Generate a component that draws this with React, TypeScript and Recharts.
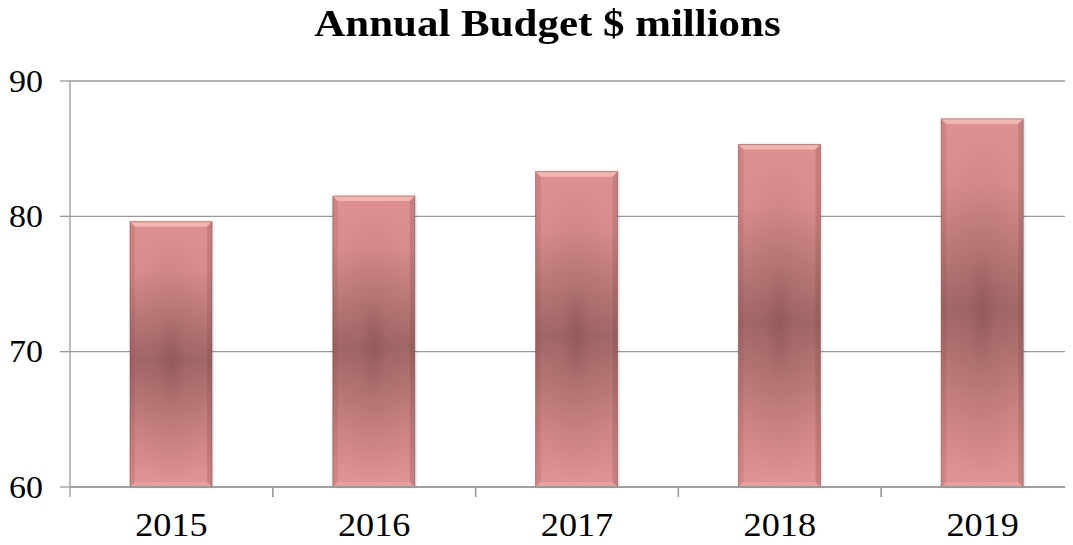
import { BarChart, Bar, XAxis, YAxis, CartesianGrid } from "recharts";

/* ─── Data ─────────────────────────────────────────────────── */

const years = ["2015", "2016", "2017", "2018", "2019"];
const budget = [79.6, 81.5, 83.3, 85.3, 87.2];
const yTicks = [60, 70, 80, 90];

const data = years.map((year, i) => ({ year, budget: budget[i] }));

/* ─── Styles ───────────────────────────────────────────────── */

const SERIF = "'Liberation Serif', 'Times New Roman', serif";
const AXIS_GREY = "#9a9a9a";

/* ─── Bevelled bar ─────────────────────────────────────────── */

function BevelBar(props: any) {
  const { x, y, width: w, height: h } = props;
  if (!h || h <= 0) return null;
  const b = 5;
  return (
    <g filter="url(#barShadow)">
      <rect x={x} y={y} width={w} height={h} fill="url(#barFade)" />
      <rect x={x} y={y} width={w} height={h} fill="url(#barSpot)" />
      {/* top chamfer */}
      <polygon
        points={`${x},${y} ${x + w},${y} ${x + w - b},${y + b} ${x + b},${y + b}`}
        fill="#f0b6b1"
      />
      {/* side edges */}
      <polygon
        points={`${x},${y} ${x + b},${y + b} ${x + b},${y + h - b} ${x},${y + h}`}
        fill="rgba(110,55,55,0.14)"
      />
      <polygon
        points={`${x + w},${y} ${x + w - b},${y + b} ${x + w - b},${y + h - b} ${x + w},${y + h}`}
        fill="rgba(110,55,55,0.2)"
      />
      {/* bottom lip */}
      <polygon
        points={`${x},${y + h} ${x + w},${y + h} ${x + w - b},${y + h - b} ${x + b},${y + h - b}`}
        fill="rgba(245,175,170,0.4)"
      />
      <rect
        x={x}
        y={y}
        width={w}
        height={h}
        fill="none"
        stroke="rgba(115,70,70,0.5)"
        strokeWidth={1}
      />
    </g>
  );
}

/* ─── Ticks ────────────────────────────────────────────────── */

function YearTick(props: any) {
  const { x, y, payload, width, visibleTicksCount } = props;
  const half =
    payload?.offset || (width && visibleTicksCount ? width / visibleTicksCount / 2 : 0);
  return (
    <g>
      <line x1={x - half} y1={y} x2={x - half} y2={y + 10} stroke={AXIS_GREY} strokeWidth={1.3} />
      <line x1={x + half} y1={y} x2={x + half} y2={y + 10} stroke={AXIS_GREY} strokeWidth={1.3} />
      <text
        transform={`translate(${x},${y + 49}) scale(1.05,1)`}
        textAnchor="middle"
        fontFamily={SERIF}
        fontSize={34.5}
        fill="#000"
      >
        {payload.value}
      </text>
    </g>
  );
}

function ValueTick(props: any) {
  const { x, y, payload } = props;
  return (
    <text
      transform={`translate(${x},${y}) scale(1.08,1)`}
      dy="0.34em"
      textAnchor="end"
      fontFamily={SERIF}
      fontSize={31.5}
      fill="#000"
    >
      {payload.value}
    </text>
  );
}

/* ─── Component ────────────────────────────────────────────── */

export default function App() {
  return (
    <div
      style={{
        position: "relative",
        width: 1073,
        height: 545,
        margin: -8,
        overflow: "hidden",
        background: "#fff",
      }}
    >
      <div
        style={{
          position: "absolute",
          top: 5,
          left: 0,
          width: 1095,
          textAlign: "center",
          fontFamily: SERIF,
          fontWeight: "bold",
          fontSize: 37,
          lineHeight: "37px",
          color: "#000",
          transform: "scaleX(1.16)",
          transformOrigin: "547.5px 0",
        }}
      >
        Annual Budget $ millions
      </div>
      <BarChart
        width={1090}
        height={545}
        data={data}
        margin={{ top: 81, right: 6, bottom: 0, left: 0 }}
        barSize={82}
      >
        <defs>
          <linearGradient id="barFade" x1="0" y1="0" x2="0" y2="1">
            <stop offset="0" stopColor="#de9191" />
            <stop offset="0.18" stopColor="#d88c8c" />
            <stop offset="0.52" stopColor="#a26767" />
            <stop offset="0.82" stopColor="#cf8585" />
            <stop offset="1" stopColor="#e29595" />
          </linearGradient>
          <radialGradient id="barSpot" cx="0.5" cy="0.52" r="0.5">
            <stop offset="0" stopColor="#7f4a4a" stopOpacity={0.45} />
            <stop offset="0.35" stopColor="#8a5252" stopOpacity={0.15} />
            <stop offset="1" stopColor="#8a5252" stopOpacity={0} />
          </radialGradient>
          <filter id="barShadow" x="-10%" y="-5%" width="120%" height="110%">
            <feDropShadow dx="1" dy="0" stdDeviation="1.5" floodColor="#000" floodOpacity="0.16" />
          </filter>
        </defs>
        <CartesianGrid vertical={false} stroke={AXIS_GREY} strokeWidth={1.3} />
        <XAxis
          dataKey="year"
          axisLine={{ stroke: AXIS_GREY, strokeWidth: 1.3 }}
          tickLine={false}
          tickSize={0}
          tickMargin={0}
          height={58}
          tick={<YearTick />}
          interval={0}
        />
        <YAxis
          domain={[60, 90]}
          ticks={yTicks}
          width={70}
          axisLine={{ stroke: AXIS_GREY, strokeWidth: 1.3 }}
          tickLine={{ stroke: AXIS_GREY, strokeWidth: 1.3 }}
          tickSize={10}
          tickMargin={17}
          tick={<ValueTick />}
        />
        <Bar dataKey="budget" shape={<BevelBar />} isAnimationActive={false} />
      </BarChart>
    </div>
  );
}
